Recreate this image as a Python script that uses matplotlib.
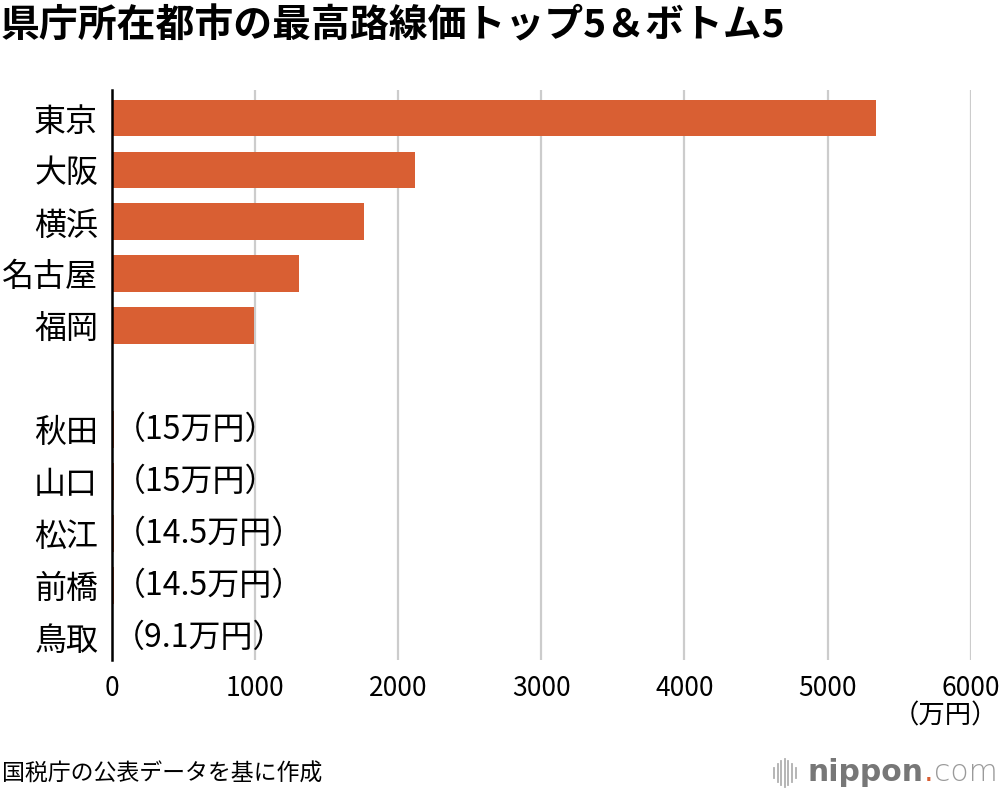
import matplotlib
matplotlib.use('Agg')
import matplotlib.pyplot as plt
from matplotlib.lines import Line2D

plt.rcParams['font.family'] = ['Noto Sans CJK JP', 'DejaVu Sans']

# 最高路線価（万円/㎡）
cities = ['東京', '大阪', '横浜', '名古屋', '福岡', '秋田', '山口', '松江', '前橋', '鳥取']
prices = [5336, 2120, 1760, 1304, 992, 15, 15, 14.5, 14.5, 9.1]
x_ticks = [0, 1000, 2000, 3000, 4000, 5000, 6000]

bar_color = '#D95F33'

fig = plt.figure(figsize=(10, 7.96), dpi=100)
ax = fig.add_axes([0.112, 0.171, 0.8587, 0.716])

# top 5, one empty row, bottom 5
pos = list(range(5)) + list(range(6, 11))

ax.barh(pos, prices, height=0.71, color=bar_color, zorder=3)

# small values get a text label next to the bar
for p, v in zip(pos[5:], prices[5:]):
    ax.annotate(f'（{v:g}万円）', xy=(v, p), xytext=(0, 0), textcoords='offset points',
                va='center', ha='left', fontsize=23)

ax.set_ylim(10.43, -0.54)
ax.set_xlim(0, 6000)
ax.set_yticks(pos, cities, fontsize=23)
ax.set_xticks(x_ticks, [str(t) for t in x_ticks], fontsize=19)
ax.tick_params(axis='y', length=0, pad=10)
ax.tick_params(axis='x', length=0, pad=11)

ax.grid(axis='x', color='#cccccc', linewidth=1.6, zorder=0)
for s in ['top', 'right', 'bottom']:
    ax.spines[s].set_visible(False)
ax.spines['left'].set_color('black')
ax.spines['left'].set_linewidth(1.8)
ax.spines['left'].set_zorder(4)

fig.text(0.998, 0.100, '（万円）', ha='right', va='center', fontsize=19)

fig.text(0.001, 0.968, '県庁所在都市の最高路線価トップ5＆ボトム5', ha='left', va='center',
         fontsize=28, fontweight='bold')
fig.text(0.002, 0.027, '国税庁の公表データを基に作成', ha='left', va='center', fontsize=16.5)

# nippon.com logo, pieces placed one after another
fig.canvas.draw()
r = fig.canvas.get_renderer()
x = 0.808
for txt, col, w in [('nippon', '#777777', 'bold'), ('.', bar_color, 'normal'), ('com', '#9a9a9a', 'light')]:
    t = fig.text(x, 0.029, txt, ha='left', va='center', fontsize=21.5, color=col,
                 fontweight=w, family=['DejaVu Sans'])
    x += t.get_window_extent(r).width / fig.bbox.width
bars_h = [0.35, 0.6, 0.85, 1.0, 0.85, 0.6, 0.35]
for i, h in enumerate(bars_h):
    xi = 0.774 + i * 0.0036
    fig.add_artist(Line2D([xi, xi], [0.029 - 0.018 * h, 0.029 + 0.018 * h],
                          transform=fig.transFigure, color='#b0b0b0', linewidth=1.3))

fig.savefig('out.png', dpi=100)
